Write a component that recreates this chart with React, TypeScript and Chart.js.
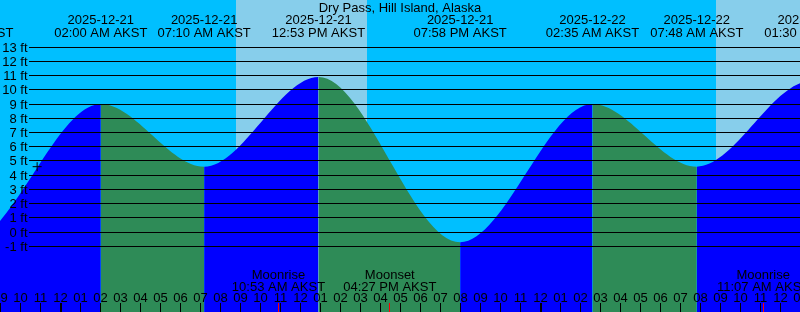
import React, { useEffect, useRef } from 'react';
import { Chart, registerables } from 'chart.js';

Chart.register(...registerables);

// ---------- data (times in AKST) ----------
const TITLE = 'Dry Pass, Hill Island, Alaska';
const ZONE = 'AKST';

const tideTimes = [
  '2025-12-20 12:40',
  '2025-12-20 19:18',
  '2025-12-21 02:00',
  '2025-12-21 07:10',
  '2025-12-21 12:53',
  '2025-12-21 19:58',
  '2025-12-22 02:35',
  '2025-12-22 07:48',
  '2025-12-22 13:30',
  '2025-12-22 20:35',
];
const tideHeights = [10.8, -0.7, 9.0, 4.6, 10.9, -0.7, 9.0, 4.6, 10.6, -0.7];

const daylightStart = ['2025-12-21 08:46', '2025-12-22 08:46'];
const daylightEnd = ['2025-12-21 15:19', '2025-12-22 15:20'];

const moonTimes = ['2025-12-21 10:53', '2025-12-21 16:27', '2025-12-22 11:07'];
const moonEvents = ['Moonrise', 'Moonset', 'Moonrise'];

const nowTime = '2025-12-20 22:49';
const nowHeight = 4.6;

const heightTicks = [13, 12, 11, 10, 9, 8, 7, 6, 5, 4, 3, 2, 1, 0, -1];

// ---------- axis configuration ----------
const X_MIN = -3.04; // hours relative to 2025-12-21 00:00
const X_MAX = 36.96;
const Y_MIN = -5.6;
const Y_MAX = 16.3;

const NIGHT = '#00BFFF';
const DAY = '#87CEEB';
const FLOOD = '#0000FF';
const EBB = '#2E8B57';
const FONT = '13px "Liberation Sans", Arial, sans-serif';

const REF = Date.UTC(2025, 11, 21, 0, 0);
const hrs = (s: string) => {
  const [d, t] = s.split(' ');
  const [Y, M, D] = d.split('-').map(Number);
  const [h, m] = t.split(':').map(Number);
  return (Date.UTC(Y, M - 1, D, h, m) - REF) / 3600000;
};
const pad = (n: number) => (n < 10 ? '0' + n : '' + n);
const clock = (s: string) => {
  const [h, m] = s.split(' ')[1].split(':').map(Number);
  const ap = h < 12 ? 'AM' : 'PM';
  const h12 = h % 12 === 0 ? 12 : h % 12;
  return `${pad(h12)}:${pad(m)} ${ap} ${ZONE}`;
};

const decor = {
  id: 'tideDecor',
  beforeDraw(chart: any) {
    const { ctx, width, height } = chart;
    const x = chart.scales.x;
    ctx.save();
    ctx.fillStyle = NIGHT;
    ctx.fillRect(0, 0, width, height);
    ctx.fillStyle = DAY;
    for (let i = 0; i < daylightStart.length; i++) {
      const a = Math.round(x.getPixelForValue(hrs(daylightStart[i])));
      const b = Math.round(x.getPixelForValue(hrs(daylightEnd[i])));
      ctx.fillRect(a, 0, b - a, height);
    }
    ctx.restore();
  },
  beforeDatasetsDraw(chart: any) {
    const { ctx, width } = chart;
    const y = chart.scales.y;
    ctx.save();
    ctx.fillStyle = '#000';
    for (const v of heightTicks) {
      const py = Math.floor(y.getPixelForValue(v) + 0.01);
      ctx.fillRect(29, py, width - 29, 1);
    }
    ctx.restore();
  },
  afterDraw(chart: any) {
    const { ctx, width } = chart;
    const x = chart.scales.x;
    const y = chart.scales.y;
    ctx.save();
    ctx.fillStyle = '#000';
    ctx.font = FONT;
    ctx.textBaseline = 'alphabetic';

    // y labels
    ctx.textAlign = 'right';
    for (const v of heightTicks) {
      const py = Math.floor(y.getPixelForValue(v) + 0.01);
      ctx.fillText(`${v} ft`, 27.5, py + 5);
    }

    // title
    ctx.textAlign = 'center';
    ctx.fillText(TITLE, width / 2, 12);

    // tide extreme labels
    for (let i = 0; i < tideTimes.length; i++) {
      const cx = x.getPixelForValue(hrs(tideTimes[i]));
      ctx.fillText(tideTimes[i].slice(0, 10), cx, 24);
      ctx.fillText(clock(tideTimes[i]), cx, 36.5);
    }

    // hour ticks and labels
    for (let h = Math.ceil(X_MIN) - 1; h <= Math.floor(X_MAX) + 1; h++) {
      const px = Math.floor(x.getPixelForValue(h));
      const hod = ((h % 24) + 24) % 24;
      ctx.fillStyle = '#000';
      ctx.fillRect(px, 303, hod === 0 ? 2 : 1, 9);
      const h12 = hod % 12 === 0 ? 12 : hod % 12;
      ctx.fillText(pad(h12), px + 0.5, 301.5);
    }

    // moon events
    for (let i = 0; i < moonTimes.length; i++) {
      const cxr = x.getPixelForValue(hrs(moonTimes[i]));
      const px = Math.floor(cxr);
      ctx.fillStyle = '#FF0000';
      ctx.fillRect(px, 303, 1, 9);
      ctx.fillStyle = '#000';
      ctx.fillText(moonEvents[i], cxr, 279);
      ctx.fillText(clock(moonTimes[i]), cxr, 291);
    }
    ctx.restore();
  },
};

export default function App() {
  const ref = useRef<HTMLCanvasElement>(null);
  useEffect(() => {
    document.body.style.margin = '0';
    const tideData = tideTimes.map((t, i) => ({ x: hrs(t), y: tideHeights[i] }));
    const chart = new Chart(ref.current as HTMLCanvasElement, {
      type: 'line',
      data: {
        datasets: [
          {
            data: [{ x: hrs(nowTime), y: nowHeight }],
            showLine: false,
            pointStyle: 'cross',
            pointRadius: 4.5,
            pointBorderColor: '#000',
            pointBorderWidth: 1,
            pointBackgroundColor: '#000',
          } as any,
          {
            data: tideData,
            fill: 'start',
            borderColor: 'rgba(0,0,0,0)',
            borderWidth: 1,
            backgroundColor: FLOOD,
            pointRadius: 0,
            cubicInterpolationMode: 'monotone',
            segment: {
              backgroundColor: (c: any) => (c.p1.parsed.y > c.p0.parsed.y ? FLOOD : EBB),
            },
          } as any,
        ],
      },
      options: {
        responsive: false,
        maintainAspectRatio: false,
        devicePixelRatio: 1,
        animation: false,
        events: [],
        layout: { padding: 0, autoPadding: false },
        elements: { line: { capBezierPoints: false } },
        scales: {
          x: { type: 'linear', min: X_MIN, max: X_MAX, display: false },
          y: { type: 'linear', min: Y_MIN, max: Y_MAX, display: false },
        },
        plugins: {
          legend: { display: false },
          tooltip: { enabled: false },
          title: { display: false },
          filler: { drawTime: 'beforeDatasetsDraw' },
        } as any,
      } as any,
      plugins: [decor],
    });
    return () => chart.destroy();
  }, []);
  return (
    <div style={{ width: 800, height: 312 }}>
      <canvas ref={ref} width={800} height={312} style={{ display: 'block' }} />
    </div>
  );
}
